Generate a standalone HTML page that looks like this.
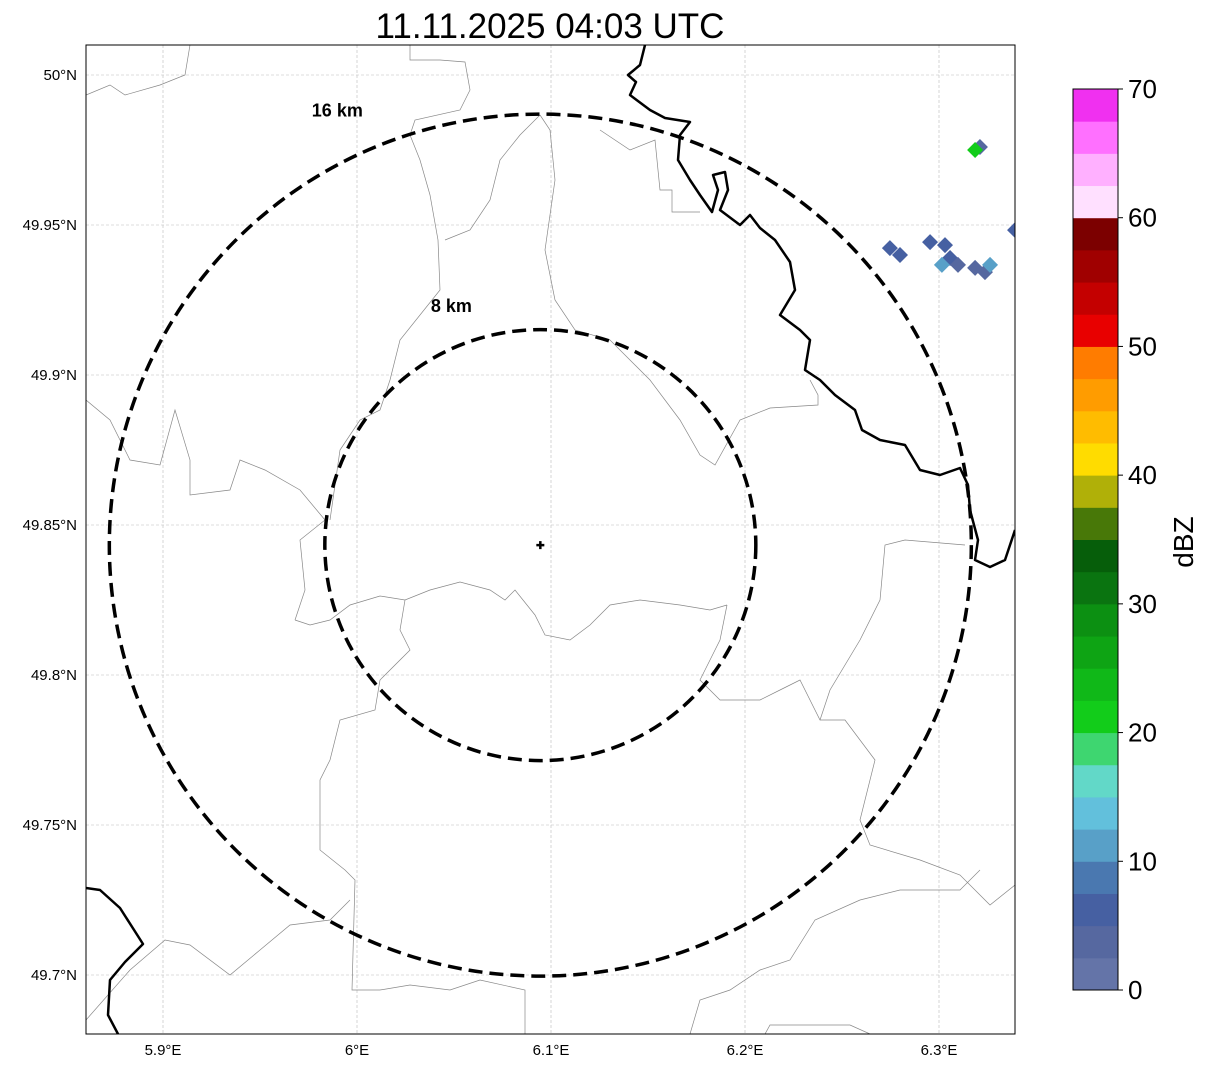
<!DOCTYPE html>
<html><head><meta charset="utf-8">
<style>
body{margin:0;background:#fff;font-family:"Liberation Sans",sans-serif;}
svg{display:block}
</style></head>
<body>
<svg id="chart" width="1207" height="1069" viewBox="0 0 1207 1069" xmlns="http://www.w3.org/2000/svg">
<text x="550" y="38" font-size="35" text-anchor="middle" font-family="Liberation Sans, sans-serif">11.11.2025 04:03 UTC</text>
<defs><clipPath id="mapclip"><rect x="86" y="45" width="929" height="989"/></clipPath></defs>
<g id="grid"></g>
<g clip-path="url(#mapclip)">
<g id="borders"></g>
<g id="echoes"></g>
</g>
<g id="rings"></g>
<rect x="86" y="45" width="929" height="989" fill="none" stroke="#000" stroke-width="1"/>
<g id="axes"></g>
<g id="cbar"></g>
<text x="1193" y="542" font-size="28" text-anchor="middle" transform="rotate(-90 1193 542)" font-family="Liberation Sans, sans-serif">dBZ</text>
</svg>
<script>
const lonTicks=[5.9,6.0,6.1,6.2,6.3];
const lonLabels=["5.9°E","6°E","6.1°E","6.2°E","6.3°E"];
const latTicks=[50.0,49.95,49.9,49.85,49.8,49.75,49.7];
const latLabels=["50°N","49.95°N","49.9°N","49.85°N","49.8°N","49.75°N","49.7°N"];
const cbColors=["#6474a8","#5668a0","#4660a2","#4a78b0","#58a0c8","#62c0dc","#62d8c8","#3ed670","#12cc1a","#10b818","#0ea414","#0c9012","#0a7410","#065e0a","#487808","#b0b008","#ffdc00","#ffbc00","#ff9c00","#ff7c00","#e80000","#c40000","#a00000","#7c0000","#ffe0ff","#ffb0ff","#ff70ff","#f030f0"];
const cbTicks=[0,10,20,30,40,50,60,70];
const echoLon=[6.3211,6.3186,6.2747,6.2799,6.2954,6.3031,6.3057,6.3098,6.3015,6.3186,6.3237,6.3263,6.3392];
const echoLat=[49.976,49.975,49.9423,49.940,49.9443,49.9433,49.939,49.9367,49.9367,49.9357,49.9343,49.9367,49.9483];
const echoDbz=[3,21,5,5,5,5,5,4,11,4,4,12,5];
const ringCenter=[6.0945,49.8433];
const ringKm=[8,16];

const NS="http://www.w3.org/2000/svg";
function X(lon){return 357+(lon-6.0)*1940;}
function Y(lat){return 75+(50.0-lat)*3000;}
function mk(tag,attrs,parent){const e=document.createElementNS(NS,tag);for(const k in attrs)e.setAttribute(k,attrs[k]);parent.appendChild(e);return e;}
const grid=document.getElementById('grid'),axes=document.getElementById('axes');
lonTicks.forEach((v,i)=>{
  const l=mk('line',{x1:X(v),x2:X(v),y1:45,y2:1034,stroke:'#bbb','stroke-width':0.6,'stroke-dasharray':'3,2'},grid);
  
  
  const t=mk('text',{x:X(v),y:1055,'font-size':15,'text-anchor':'middle'},axes);t.textContent=lonLabels[i];
  
  
});
latTicks.forEach((v,i)=>{
  const l=mk('line',{x1:86,x2:1015,y1:Y(v),y2:Y(v),stroke:'#bbb','stroke-width':0.6,'stroke-dasharray':'3,2'},grid);
  
  
  const t=mk('text',{x:77,y:Y(v)+5,'font-size':15,'text-anchor':'end'},axes);t.textContent=latLabels[i];
  
  
});
const borders=document.getElementById('borders');
const thin=[
"295,620 310,625 330,620 350,605 380,596 405,600 430,590 460,582 490,590 505,600 515,590 535,615 545,635 570,640 590,625 610,605 640,600 680,605 710,610 727,605",
"540,115 550,130 555,180 545,250 555,300 575,330 610,340 650,380 680,420 700,455 715,465 740,420 770,408 818,405 818,395 810,380",
"86,400 110,420 130,460 160,465 175,410 190,460 190,495 230,490 240,460 265,470 300,490 325,520 300,540 305,590 295,620",
"86,95 110,85 125,95 160,85 185,75 190,45",
"410,45 410,60 440,60 465,62 470,90 460,110 415,120 410,135 420,160 430,195 438,240 440,290 400,340 390,380 380,410 360,420 340,450 330,520",
"540,115 520,135 500,160 490,200 470,230 445,240",
"405,600 400,630 410,650 380,680 375,710 340,720 330,760 320,780 320,850 345,870 355,880 352,990 380,990 410,985 450,990 480,980 525,990 525,1034",
"727,605 720,640 700,680 720,700 760,700 780,690 800,680 820,720 845,720 875,760 860,820 870,845 920,860 960,875 990,905 1015,885",
"820,720 830,690 860,640 880,600 885,545 905,540 965,545",
"86,1020 130,970 165,940 190,945 230,975 260,950 290,925 330,920 350,900",
"690,1034 700,1000 730,990 760,970 790,960 815,920 860,900 900,890 960,890 980,870",
"765,1034 770,1025 850,1025 870,1034",
"600,130 630,150 655,140 660,190 672,190 672,212 700,212"
];
thin.forEach(p=>{const e=mk('polyline',{points:p,fill:'none',stroke:'#888','stroke-width':0.7},borders);
  
  });
const thick=[
"645,45 640,65 628,75 636,82 630,95 650,110 665,118 690,122 680,135 678,160 690,180 700,195 712,212 718,190 713,175 725,172 728,190 720,210 740,225 750,215 760,228 775,240 790,262 795,290 780,315 800,330 810,340 805,370 820,380 835,395 855,410 862,430 880,440 905,445 920,470 940,475 960,468 968,485 970,510 978,540 975,560 990,567 1005,560 1015,530",
"86,888 100,890 120,908 143,944 125,962 110,980 108,1015 118,1034"];
thick.forEach(p=>{const e=mk('polyline',{points:p,fill:'none',stroke:'#000','stroke-width':2.5,'stroke-linejoin':'round'},borders);
  
  });
function colorFor(d){return cbColors[Math.max(0,Math.min(27,Math.floor(d/2.5)))];}
const echoes=document.getElementById('echoes');
echoLon.forEach((lon,i)=>{const x=X(lon),y=Y(echoLat[i]),s=8;
  const e=mk('polygon',{points:`${x},${y-s} ${x+s},${y} ${x},${y+s} ${x-s},${y}`,fill:colorFor(echoDbz[i])},echoes);
  
  });
const rings=document.getElementById('rings');
const cx=X(ringCenter[0]),cy=Y(ringCenter[1]);
const pxPerKm=431/16;
ringKm.forEach(km=>{const r=km*pxPerKm;
  const c=mk('ellipse',{cx:cx,cy:cy,rx:r,ry:r,fill:'none',stroke:'#000','stroke-width':3.5,'stroke-dasharray':'14,7'},rings);
  
  
  const t=mk('text',{x:cx-r*(km==8?0.413:0.471),y:cy-r*(km==8?1.081:0.995),'font-size':18,'font-weight':'bold','text-anchor':'middle'},rings);
  t.textContent=km+' km';
  
  });
const cr=mk('path',{d:`M${cx-4},${cy} H${cx+4} M${cx},${cy-4} V${cy+4}`,stroke:'#000','stroke-width':2.5},rings);


const cb=document.getElementById('cbar');
const cbTop=89,cbBot=990,cbX=1073,cbW=45;
function CY(v){return cbBot-(v/70)*(cbBot-cbTop);}
cbColors.forEach((c,i)=>{const y0=CY((i+1)*2.5),y1=CY(i*2.5);
  const r=mk('rect',{x:cbX,y:y0,width:cbW,height:y1-y0+0.5,fill:c},cb);
  
  });
mk('rect',{x:cbX,y:cbTop,width:cbW,height:cbBot-cbTop,fill:'none',stroke:'#000','stroke-width':1},cb);
cbTicks.forEach(v=>{mk('line',{x1:cbX+cbW,x2:cbX+cbW+5,y1:CY(v),y2:CY(v),stroke:'#000'},cb);
  const t=mk('text',{x:cbX+cbW+10,y:CY(v)+9,'font-size':26},cb);t.textContent=v;
  
  });
</script>
</body></html>
